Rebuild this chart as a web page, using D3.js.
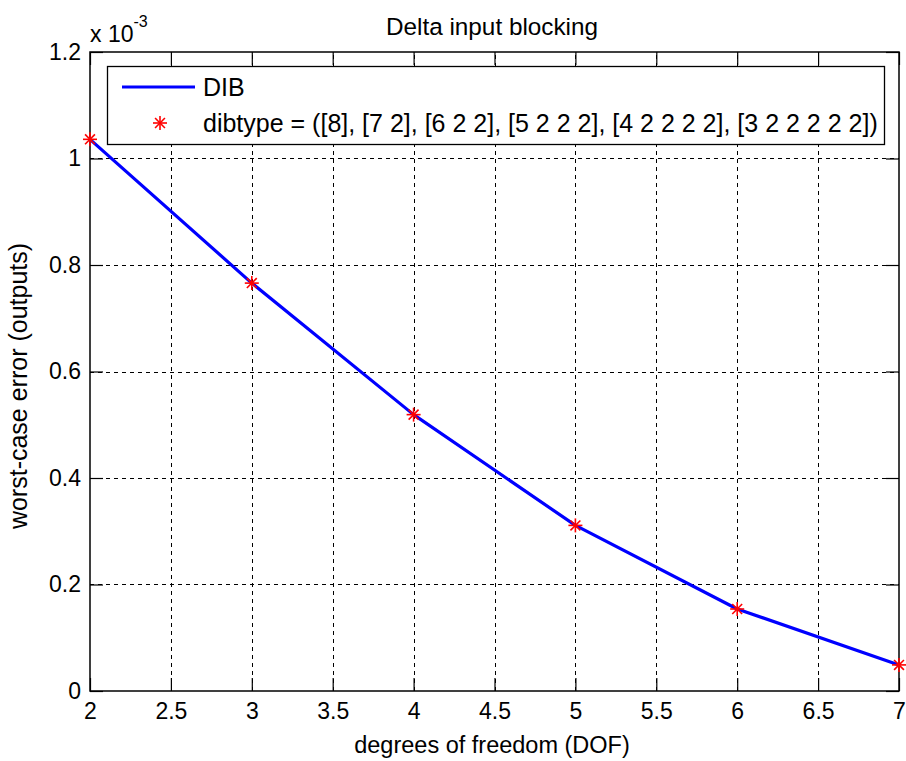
<!DOCTYPE html>
<html>
<head>
<meta charset="utf-8">
<script src="https://cdn.jsdelivr.net/npm/d3@7"></script>
<style>
    body { margin: 0; background: #fff; }
    svg text { font-family: "Liberation Sans", Arial, sans-serif; fill: #000; }
</style>
</head>
<body>
<svg id="chart" width="906" height="761"></svg>
<script>
// data (y in units of 1e-3)
let dof = [2, 3, 4, 5, 6, 7];
let worstCaseError = [1.036, 0.766, 0.519, 0.311, 0.154, 0.049];
let xTicks = [2, 2.5, 3, 3.5, 4, 4.5, 5, 5.5, 6, 6.5, 7];
let yTicks = [0, 0.2, 0.4, 0.6, 0.8, 1, 1.2];
let legendLabels = ['DIB', 'dibtype = ([8], [7 2], [6 2 2], [5 2 2 2], [4 2 2 2 2], [3 2 2 2 2 2])'];

let margin = {top: 52, right: 7, bottom: 70, left: 90};
let width = 906, height = 761;
let fontSize = 23;
let tickLen = 13;

let svg = d3.select('#chart');

let xScale = d3.scaleLinear()
    .domain([2, 7])
    .range([margin.left, width - margin.right]);

let yScale = d3.scaleLinear()
    .domain([0, 1.2])
    .range([height - margin.bottom, margin.top]);

let x0 = xScale.range()[0], x1 = xScale.range()[1];
let y0 = yScale.range()[0], y1 = yScale.range()[1];

// background of the axes
svg.append('rect')
    .attr('x', x0).attr('y', y1)
    .attr('width', x1 - x0).attr('height', y0 - y1)
    .attr('fill', '#fff');

// dashed grid
let grid = svg.append('g').attr('class', 'grid')
    .attr('stroke', '#000').attr('stroke-width', 1.2)
    .attr('stroke-dasharray', '4,4').attr('shape-rendering', 'crispEdges');

grid.selectAll('line.v')
    .data(xTicks.slice(1, -1))
    .join('line')
    .attr('class', 'v')
    .attr('x1', d => Math.round(xScale(d)) + 0.5).attr('x2', d => Math.round(xScale(d)) + 0.5)
    .attr('y1', y0).attr('y2', y1);

grid.selectAll('line.h')
    .data(yTicks.slice(1, -1))
    .join('line')
    .attr('class', 'h')
    .attr('y1', d => Math.round(yScale(d)) + 0.5).attr('y2', d => Math.round(yScale(d)) + 0.5)
    .attr('x1', x0).attr('x2', x1);

// axes with inward ticks, mirrored on top and right
let xAxisBottom = d3.axisBottom(xScale).tickValues(xTicks).tickSize(-tickLen).tickFormat(d3.format('')).tickPadding(12);
let xAxisTop = d3.axisTop(xScale).tickValues(xTicks).tickSize(-tickLen).tickFormat('');
let yAxisLeft = d3.axisLeft(yScale).tickValues(yTicks).tickSize(-tickLen).tickFormat(d3.format('')).tickPadding(9);
let yAxisRight = d3.axisRight(yScale).tickValues(yTicks).tickSize(-tickLen).tickFormat('');

function styleAxis(g) {
    g.select('.domain').remove();
    g.selectAll('.tick line').attr('stroke', '#000').attr('stroke-width', 1.2);
    g.selectAll('.tick text')
        .attr('fill', '#000')
        .style('font-size', fontSize + 'px')
        .style('font-family', '"Liberation Sans", Arial, sans-serif');
}

svg.append('g')
    .attr('transform', `translate(0, ${y0})`)
    .call(xAxisBottom)
    .call(styleAxis);

svg.append('g')
    .attr('transform', `translate(0, ${y1})`)
    .call(xAxisTop)
    .call(styleAxis);

svg.append('g')
    .attr('transform', `translate(${x0}, 0)`)
    .call(yAxisLeft)
    .call(styleAxis);

svg.append('g')
    .attr('transform', `translate(${x1}, 0)`)
    .call(yAxisRight)
    .call(styleAxis);

// axes box
svg.append('rect')
    .attr('x', x0).attr('y', y1)
    .attr('width', x1 - x0).attr('height', y0 - y1)
    .attr('fill', 'none').attr('stroke', '#000').attr('stroke-width', 1.5);

// data line
let line = d3.line()
    .x((d, i) => xScale(dof[i]))
    .y(d => yScale(d));

svg.append('path')
    .datum(worstCaseError)
    .attr('fill', 'none')
    .attr('stroke', '#0000ff')
    .attr('stroke-width', 3.2)
    .attr('stroke-linejoin', 'round')
    .attr('d', line);

// asterisk marker
function asterisk(g, size) {
    let r = size / 2;
    let angles = [0, 45, 90, 135];
    angles.forEach(a => {
        let rad = a * Math.PI / 180;
        g.append('line')
            .attr('x1', -r * Math.cos(rad)).attr('y1', -r * Math.sin(rad))
            .attr('x2', r * Math.cos(rad)).attr('y2', r * Math.sin(rad))
            .attr('stroke', '#ff0000').attr('stroke-width', 1.6);
    });
}

svg.append('g').selectAll('g.marker')
    .data(worstCaseError)
    .join('g')
    .attr('class', 'marker')
    .attr('transform', (d, i) => `translate(${xScale(dof[i])}, ${yScale(d)})`)
    .each(function () { asterisk(d3.select(this), 14); });

// legend
let legend = svg.append('g').attr('class', 'legend');
legend.append('rect')
    .attr('x', 107.5).attr('y', 66.5)
    .attr('width', 777).attr('height', 78)
    .attr('fill', '#fff').attr('stroke', '#000').attr('stroke-width', 1.3);

legend.append('line')
    .attr('x1', 122).attr('x2', 195)
    .attr('y1', 87).attr('y2', 87)
    .attr('stroke', '#0000ff').attr('stroke-width', 3.2);

legend.append('g')
    .attr('transform', 'translate(160, 123)')
    .call(g => asterisk(g, 14));

legend.selectAll('text')
    .data(legendLabels)
    .join('text')
    .attr('x', 203)
    .attr('y', (d, i) => 96 + i * 36)
    .style('font-size', '25px')
    .text(d => d);

// title and labels
svg.append('text')
    .attr('x', 492).attr('y', 35)
    .attr('text-anchor', 'middle')
    .style('font-size', '24.3px')
    .text('Delta input blocking');

svg.append('text')
    .attr('x', 492).attr('y', 753)
    .attr('text-anchor', 'middle')
    .style('font-size', '23.5px')
    .text('degrees of freedom (DOF)');

svg.append('text')
    .attr('transform', 'translate(27, 386) rotate(-90)')
    .attr('text-anchor', 'middle')
    .style('font-size', '25px')
    .text('worst-case error (outputs)');

// exponent label
let expLabel = svg.append('text')
    .attr('x', 90).attr('y', 42)
    .style('font-size', fontSize + 'px');
expLabel.append('tspan').text('x 10');
expLabel.append('tspan')
    .attr('dy', -15)
    .style('font-size', '16px')
    .text('-3');
</script>
</body>
</html>
